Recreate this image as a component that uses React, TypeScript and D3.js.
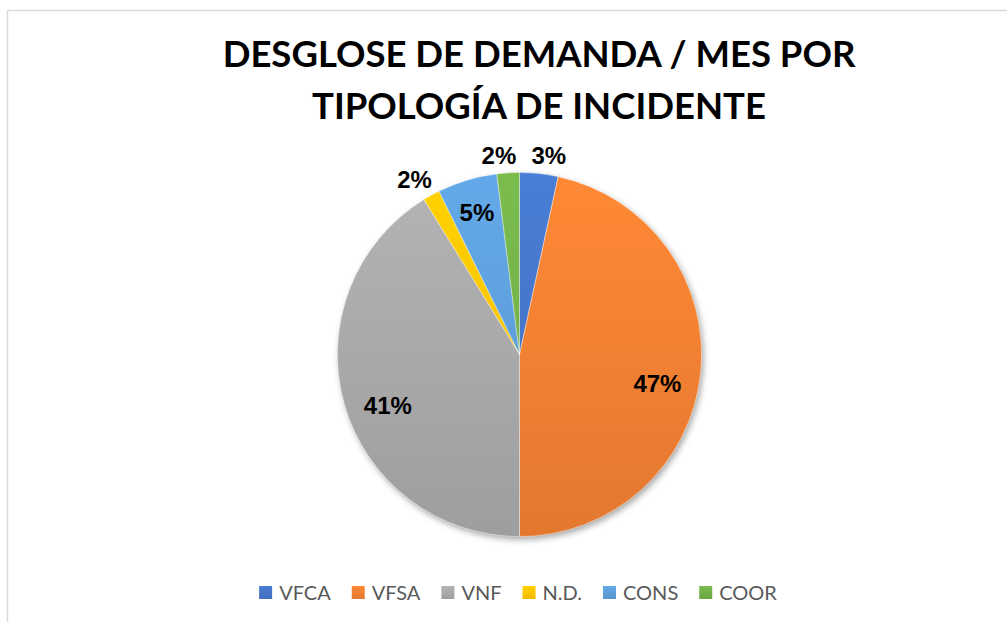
import { useEffect, useMemo, useRef } from "react";
import { pie as d3Pie, arc as d3Arc, select, color as d3Color } from "d3";

const categories = ["VFCA", "VFSA", "VNF", "N.D.", "CONS", "COOR"];
const shares = [3.4, 46.6, 41.2, 1.5, 5.3, 2.0];
const colors = ["#4472C4", "#ED7D31", "#A5A5A5", "#FFC000", "#5B9BD5", "#70AD47"];
const titleLines = ["DESGLOSE DE DEMANDA / MES POR", "TIPOLOGÍA DE INCIDENTE"];

const W = 1007;
const H = 622;
const CX = 519.5;
const CY = 354.5;
const R = 182;

export default function App() {
  const legendRef = useRef<SVGGElement>(null);

  const total = shares.reduce((a, b) => a + b, 0);

  const arcs = useMemo(() => {
    const gen = d3Pie<number>().sort(null).value((d) => d);
    return gen(shares);
  }, []);

  const arcGen = d3Arc<any>().innerRadius(0).outerRadius(R);

  // legend layout: measure texts, then centre the whole row
  useEffect(() => {
    if (!legendRef.current) return;
    const g = select(legendRef.current);
    let x = 0;
    g.selectAll<SVGGElement, unknown>(".item").each(function () {
      const item = select(this);
      const t = item.select<SVGTextElement>("text").node()!;
      item.attr("transform", `translate(${x},0)`);
      x += 14 + 6 + t.getComputedTextLength() + 21;
    });
    const width = x - 21;
    g.attr("transform", `translate(${518 - width / 2},593)`);
  }, []);

  return (
    <svg
      width={W}
      height={H}
      viewBox={`0 0 ${W} ${H}`}
      style={{ position: "absolute", left: 0, top: 0, background: "#fff" }}
    >
      <defs>
        {colors.map((c, i) => (
          <linearGradient key={i} id={`g${i}`} gradientUnits="userSpaceOnUse" x1={0} y1={-R} x2={0} y2={R}>
            <stop offset="0%" stopColor={d3Color(c)!.brighter(0.25).formatHex()} />
            <stop offset="100%" stopColor={d3Color(c)!.darker(0.12).formatHex()} />
          </linearGradient>
        ))}
        {colors.map((c, i) => (
          <linearGradient key={i} id={`l${i}`} x1={0} y1={0} x2={0} y2={1}>
            <stop offset="0%" stopColor={d3Color(c)!.brighter(0.25).formatHex()} />
            <stop offset="100%" stopColor={d3Color(c)!.darker(0.12).formatHex()} />
          </linearGradient>
        ))}
        <filter id="shadow" x="-20%" y="-20%" width="140%" height="140%">
          <feDropShadow dx={2} dy={3} stdDeviation={3} floodColor="#000" floodOpacity={0.35} />
        </filter>
      </defs>

      {/* chart area border */}
      <rect x={7.5} y={10.5} width={W + 20} height={H + 20} fill="none" stroke="#d9d9d9" strokeWidth={1.5} />

      {/* title */}
      <g fontFamily="Lato, 'Open Sans', sans-serif" fontWeight="bold" fontSize={36.5} fill="#000" textAnchor="middle">
        {titleLines.map((l, i) => (
          <text key={i} x={539} y={67 + i * 52}>
            {l}
          </text>
        ))}
      </g>

      {/* pie */}
      <g transform={`translate(${CX},${CY})`}>
        <g filter="url(#shadow)">
          {arcs.map((a, i) => (
            <path key={i} d={arcGen(a) ?? ""} fill={`url(#g${i})`} />
          ))}
        </g>
        {arcs.map((a, i) => (
          <path key={i} d={arcGen(a) ?? ""} fill="none" stroke="#fff" strokeWidth={0.5} opacity={0.6} />
        ))}
      </g>

      {/* data labels */}
      <g fontFamily="'Liberation Sans', Arial, sans-serif" fontWeight="bold" fontSize={24} fill="#000" textAnchor="middle">
        {arcs.map((a, i) => {
          const share = shares[i] / total;
          const pct = Math.round(share * 100);
          let mid = (a.startAngle + a.endAngle) / 2;
          const inside = share >= 0.04;
          // big slices: best-fit pulls label a little toward the bottom
          if (share > 0.2) mid += (Math.PI - mid) * 0.07;
          const r = inside ? (share > 0.2 ? 141 : 148) : 200;
          let x = CX + r * Math.sin(mid);
          const y = CY - r * Math.cos(mid);
          if (!inside) x += Math.sin(mid) >= 0 ? 8 : -8;
          return (
            <text key={i} x={x} y={y} dy="0.36em">
              {pct}%
            </text>
          );
        })}
      </g>

      {/* legend */}
      <g ref={legendRef} fontFamily="Lato, 'Open Sans', sans-serif" fontSize={20} fill="#595959">
        {categories.map((c, i) => (
          <g className="item" key={c}>
            <rect x={0} y={-7} width={13} height={13} fill={`url(#l${i})`} />
            <text x={20} y={0} dy="0.35em">
              {c}
            </text>
          </g>
        ))}
      </g>
    </svg>
  );
}
